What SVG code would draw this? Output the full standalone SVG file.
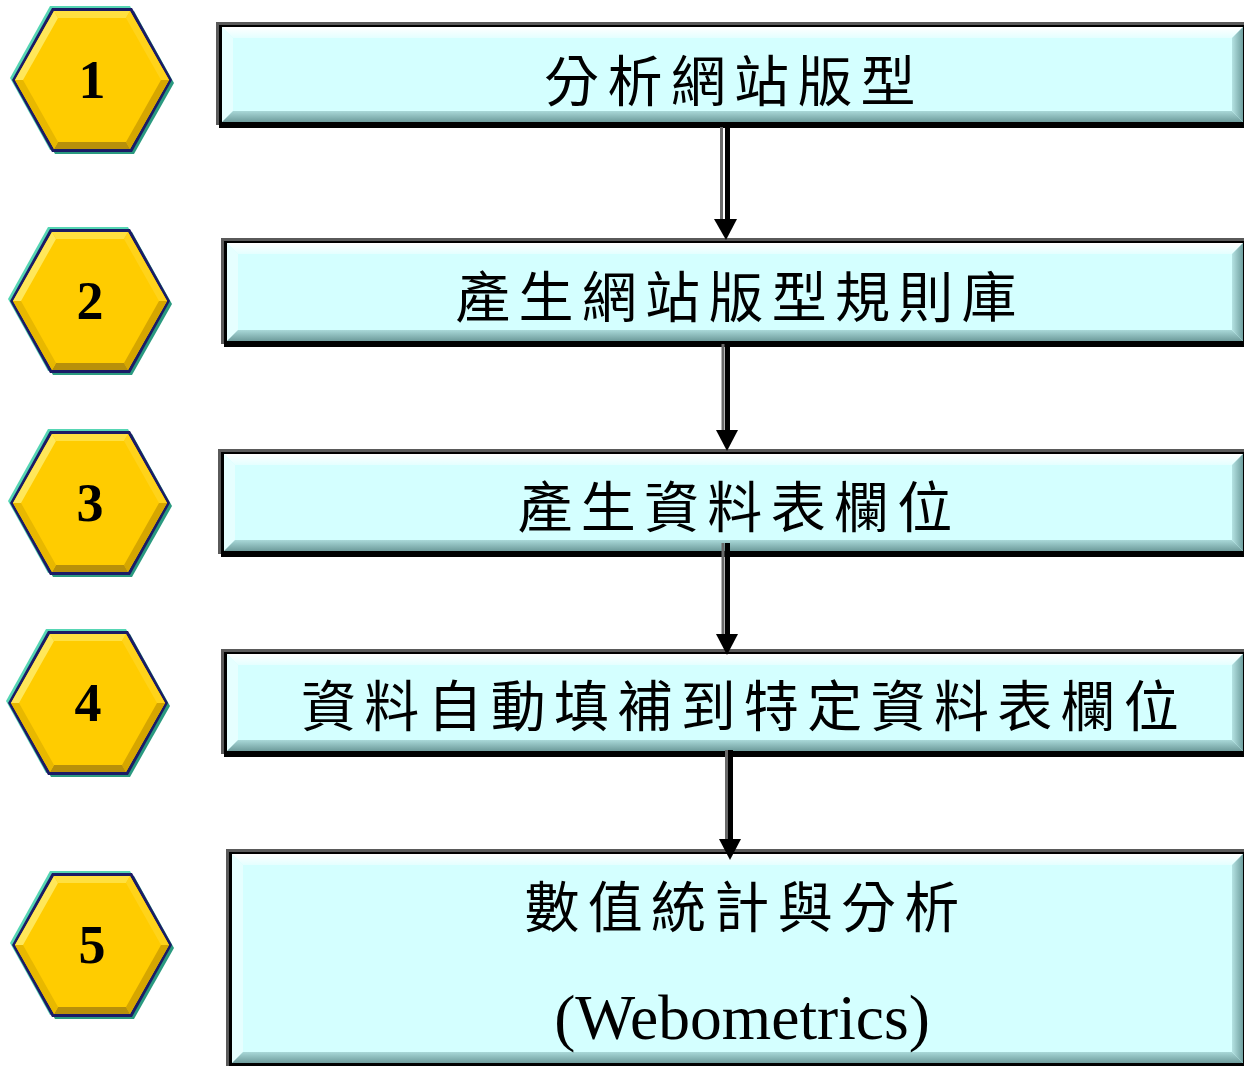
<svg xmlns="http://www.w3.org/2000/svg" width="1244" height="1066" viewBox="0 0 1244 1066">
<style>
.hl{fill:#5a5a5a}
.hb{fill:#000}
.fill{fill:#D4FFFF}
.bt{fill:url(#gTop)}
.bl{fill:#E6FFFF}
.bb{fill:url(#gBot)}
.br{fill:url(#gRight)}
.cjk{font-family:"Noto Sans CJK TC","Noto Sans CJK SC",sans-serif;font-size:55px;letter-spacing:8.3px;text-anchor:middle;fill:#000}
.num{font-family:"Liberation Serif",serif;font-weight:bold;font-size:54px;text-anchor:middle;fill:#000}
.lat{font-family:"Liberation Serif",serif;font-size:63.5px;text-anchor:middle;fill:#000}
.shaft{stroke:#000;stroke-width:5}
.shadow{stroke:#6a6a6a;stroke-width:3}
.head{fill:#000}
</style>
<defs>
<linearGradient id="gTop" x1="0" y1="0" x2="0" y2="1"><stop offset="0" stop-color="#ffffff"/><stop offset="1" stop-color="#e4ffff"/></linearGradient>
<linearGradient id="gBot" x1="0" y1="0" x2="0" y2="1"><stop offset="0" stop-color="#a9d8d8"/><stop offset="1" stop-color="#6e9c9c"/></linearGradient>
<linearGradient id="gRight" x1="0" y1="0" x2="1" y2="0"><stop offset="0" stop-color="#b5e3e3"/><stop offset="1" stop-color="#6f9f9f"/></linearGradient>
<g id="hex">
<polygon points="-82,-2 -42,-74 38,-74 78,-2 38,70 -42,70" fill="#56d6b4"/>
<polygon points="-77,3 -37,-69 42,-69 82,3 42,74 -37,74" fill="#2a9a80"/>
<polygon points="-80,0 -40,-72 40,-72 80,0 40,72 -40,72" fill="#1b1b66"/>
<polygon points="-77,0 -38,-69 38,-69 77,0 38,69 -38,69" fill="#FFCC00"/>
<polygon points="-77,0 -38,-69 -34,-62 -69,0" fill="#FFE75a"/>
<polygon points="-38,-69 38,-69 34,-62 -34,-62" fill="#FFE040"/>
<polygon points="38,-69 77,0 69,0 34,-62" fill="#FFD31a"/>
<polygon points="77,0 38,69 34,62 69,0" fill="#D6A600"/>
<polygon points="38,69 -38,69 -34,62 34,62" fill="#B8900a"/>
<polygon points="-38,69 -77,0 -69,0 -34,62" fill="#E8B800"/>
</g>
</defs>
<rect width="1244" height="1066" fill="#fff"/>

<g id="hex1"><use href="#hex" transform="translate(92,80)"/><text class="num" x="92" y="98">1</text></g>
<g id="hex2"><use href="#hex" transform="translate(90,301)"/><text class="num" x="90" y="319">2</text></g>
<g id="hex3"><use href="#hex" transform="translate(90,503)"/><text class="num" x="90" y="521">3</text></g>
<g id="hex4"><use href="#hex" transform="translate(88,703)"/><text class="num" x="88" y="721">4</text></g>
<g id="hex5"><use href="#hex" transform="translate(92,945)"/><text class="num" x="92" y="963">5</text></g>

<g id="box1">
<rect class="hl" x="216" y="22" width="1028" height="103"/>
<rect class="hb" x="219" y="25" width="1025" height="103"/>
<rect class="fill" x="222" y="27" width="1021" height="95"/>
<polygon class="bt" points="222,27 1243,27 1232,38 233,38"/>
<polygon class="bl" points="222,27 233,38 233,111 222,122"/>
<polygon class="bb" points="222,122 233,111 1232,111 1243,122"/>
<polygon class="br" points="1232,38 1243,27 1243,122 1232,111"/>
<text class="cjk" x="734" y="101">分析網站版型</text>
</g>
<g id="box2">
<rect class="hl" x="221" y="238" width="1023" height="106"/>
<rect class="hb" x="224" y="241" width="1020" height="106"/>
<rect class="fill" x="227" y="243" width="1016" height="98"/>
<polygon class="bt" points="227,243 1243,243 1232,254 238,254"/>
<polygon class="bl" points="227,243 238,254 238,330 227,341"/>
<polygon class="bb" points="227,341 238,330 1232,330 1243,341"/>
<polygon class="br" points="1232,254 1243,243 1243,341 1232,330"/>
<text class="cjk" x="740" y="317">產生網站版型規則庫</text>
</g>
<g id="box3">
<rect class="hl" x="218" y="449" width="1026" height="105"/>
<rect class="hb" x="221" y="452" width="1023" height="105"/>
<rect class="fill" x="224" y="454" width="1019" height="97"/>
<polygon class="bt" points="224,454 1243,454 1232,465 235,465"/>
<polygon class="bl" points="224,454 235,465 235,540 224,551"/>
<polygon class="bb" points="224,551 235,540 1232,540 1243,551"/>
<polygon class="br" points="1232,465 1243,454 1243,551 1232,540"/>
<text class="cjk" x="739" y="527">產生資料表欄位</text>
</g>
<g id="box4">
<rect class="hl" x="221" y="649" width="1023" height="105"/>
<rect class="hb" x="224" y="652" width="1020" height="105"/>
<rect class="fill" x="227" y="654" width="1016" height="97"/>
<polygon class="bt" points="227,654 1243,654 1232,665 238,665"/>
<polygon class="bl" points="227,654 238,665 238,740 227,751"/>
<polygon class="bb" points="227,751 238,740 1232,740 1243,751"/>
<polygon class="br" points="1232,665 1243,654 1243,751 1232,740"/>
<text class="cjk" x="744" y="726">資料自動填補到特定資料表欄位</text>
</g>
<g id="box5">
<rect class="hl" x="226" y="849" width="1018" height="217"/>
<rect class="hb" x="229" y="852" width="1015" height="214"/>
<rect class="fill" x="232" y="854" width="1011" height="209"/>
<polygon class="bt" points="232,854 1243,854 1232,865 243,865"/>
<polygon class="bl" points="232,854 243,865 243,1052 232,1063"/>
<polygon class="bb" points="232,1063 243,1052 1232,1052 1243,1063"/>
<polygon class="br" points="1232,865 1243,854 1243,1063 1232,1052"/>
<text class="cjk" x="746" y="927">數值統計與分析</text>
<text class="lat" x="742" y="1039">(Webometrics)</text>
</g>

<g id="connectors">
<line class="shadow" x1="721.5" y1="127" x2="721.5" y2="222"/>
<line class="shaft" x1="727.5" y1="127" x2="727.5" y2="222"/>
<polygon class="head" points="714,219 737,219 726,240"/>
<line class="shadow" x1="723" y1="344" x2="723" y2="433"/>
<line class="shaft" x1="727.5" y1="344" x2="727.5" y2="433"/>
<polygon class="head" points="716,430 738,430 727,451"/>
<line class="shadow" x1="723" y1="543" x2="723" y2="637"/>
<line class="shaft" x1="727.5" y1="543" x2="727.5" y2="637"/>
<polygon class="head" points="716,634 738,634 727,655"/>
<line class="shadow" x1="726.5" y1="750" x2="726.5" y2="842"/>
<line class="shaft" x1="730.5" y1="750" x2="730.5" y2="842"/>
<polygon class="head" points="719,839 741,839 730,860"/>
</g>
</svg>
